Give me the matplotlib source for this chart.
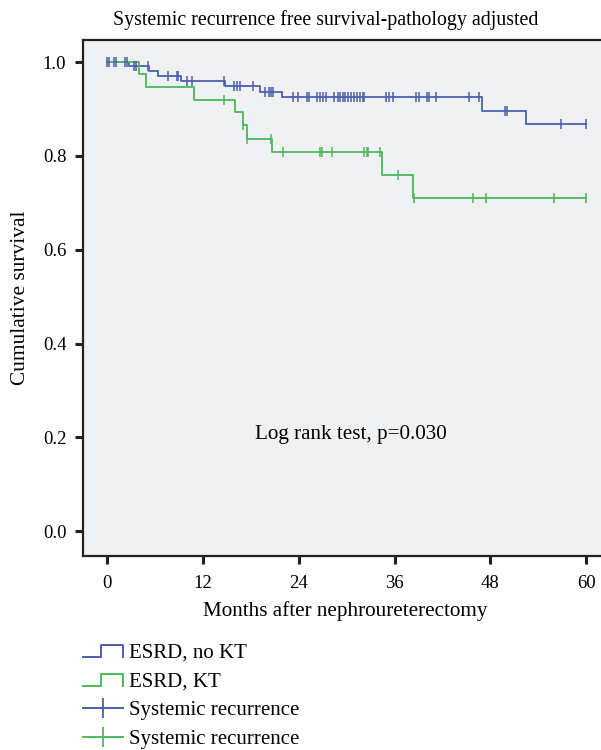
import numpy as np
import matplotlib
matplotlib.use("Agg")
import matplotlib.pyplot as plt
from matplotlib.lines import Line2D
from matplotlib.legend_handler import HandlerBase

# ESRD, no KT : event times (months) and survival after each step
blue_t = [2.7, 5.2, 6.3, 9.2, 14.7, 19.1, 21.9, 47.0, 52.5]
blue_s = [0.992, 0.981, 0.971, 0.959, 0.949, 0.937, 0.925, 0.896, 0.868]
blue_cens = [0.0, 0.25, 0.8, 1.1, 2.2, 2.5, 3.4, 3.6, 5.1, 7.6, 8.7, 8.9,
             10.0, 10.6, 14.6, 15.9, 16.3, 16.6, 18.3, 19.8, 20.2, 20.5, 20.8,
             23.2, 23.9, 25.0, 25.3, 26.3, 26.7, 27.0, 27.4, 28.4, 28.9, 29.2,
             29.5, 29.8, 30.2, 30.5, 30.9, 31.3, 31.6, 32.0, 32.2, 34.9, 35.3,
             35.8, 38.7, 39.0, 40.0, 40.3, 41.2, 45.3, 46.6, 49.8, 50.1, 56.8, 60.0]

# ESRD, KT
green_t = [4.0, 4.8, 10.9, 16.0, 17.0, 17.5, 20.6, 34.4, 38.3]
green_s = [0.974, 0.946, 0.920, 0.894, 0.866, 0.837, 0.809, 0.760, 0.711]
green_cens = [14.6, 17.0, 17.5, 20.5, 22.0, 26.7, 26.9, 28.1, 32.2, 32.5, 32.7,
              34.1, 36.4, 38.4, 45.8, 47.5, 56.0, 60.0]

xticks = [0, 12, 24, 36, 48, 60]
yticks = [0.0, 0.2, 0.4, 0.6, 0.8, 1.0]

BLUE = "#4a60ad"
GREEN = "#4db85a"

plt.rcParams["font.family"] = ["Liberation Serif", "DejaVu Serif"]


def km_curve(times, surv, t_end=60.0):
    x = [0.0] + list(times) + [t_end]
    y = [1.0] + list(surv) + [surv[-1]]
    return x, y


def surv_at(t, times, surv):
    s = 1.0
    for ti, si in zip(times, surv):
        if t >= ti:
            s = si
    return s


class StepHandler(HandlerBase):
    def create_artists(self, legend, orig, xd, yd, width, height, fontsize, trans):
        xs = [0, width * 0.45, width * 0.45, width, width]
        ys = [0.05 * height, 0.05 * height, 0.85 * height, 0.85 * height, 0.05 * height]
        ln = Line2D(np.array(xs) - xd, np.array(ys) - yd, color=orig.get_color(),
                    lw=1.4, transform=trans)
        return [ln]


fig = plt.figure(figsize=(6.01, 7.5), dpi=100)
ax = fig.add_axes([83 / 601, 1 - 556 / 750, 1.01 - 83 / 601, (556 - 40) / 750])
ax.set_facecolor("#f0f1f3")

bx, by = km_curve(blue_t, blue_s)
gx, gy = km_curve(green_t, green_s)
ax.step(bx, by, where="post", color=BLUE, lw=1.3)
ax.step(gx, gy, where="post", color=GREEN, lw=1.3)

ax.plot(blue_cens, [surv_at(t, blue_t, blue_s) for t in blue_cens], ls="none",
        marker="|", ms=7, mew=1.1, color=BLUE)
ax.plot(green_cens, [surv_at(t, green_t, green_s) for t in green_cens], ls="none",
        marker="|", ms=7, mew=1.1, color=GREEN)

ax.set_xlim(-3.05, 62.6)
ax.set_ylim(-0.053, 1.047)
ax.set_xticks(xticks)
ax.set_xticklabels([str(v) for v in xticks])
ax.set_yticks(yticks)
ax.set_yticklabels([f"{v:.1f}" for v in yticks])
ax.tick_params(direction="out", length=6, width=2.2, labelsize=13.5, color="#222222")
ax.tick_params(axis="x", pad=8)
ax.tick_params(axis="y", pad=6)
for sp in ax.spines.values():
    sp.set_linewidth(1.6)
    sp.set_color("#222222")
ax.spines["right"].set_visible(False)

ax.set_title("Systemic recurrence free survival-pathology adjusted", fontsize=14.3,
             pad=11, x=0.464)
ax.set_xlabel("Months after nephroureterectomy", fontsize=15.2, labelpad=6)
ax.set_ylabel("Cumulative survival", fontsize=15.4, labelpad=9)
ax.text(30.5, 0.205, "Log rank test, p=0.030", ha="center", va="center", fontsize=15.2)

h1 = Line2D([], [], color=BLUE)
h2 = Line2D([], [], color=GREEN)
h3 = Line2D([], [], color=BLUE, marker="|", ms=14, mew=1.3, lw=1.4)
h4 = Line2D([], [], color=GREEN, marker="|", ms=14, mew=1.3, lw=1.4)
fig.legend([h1, h2, h3, h4],
           ["ESRD, no KT", "ESRD, KT", "Systemic recurrence", "Systemic recurrence"],
           handler_map={h1: StepHandler(), h2: StepHandler()},
           loc="upper left", bbox_to_anchor=(83 / 601, 1 - 643 / 750),
           frameon=False, fontsize=15, handlelength=1.9, handletextpad=0.3,
           labelspacing=0.45, borderaxespad=0, borderpad=0)

fig.savefig("out.png", dpi=100)
